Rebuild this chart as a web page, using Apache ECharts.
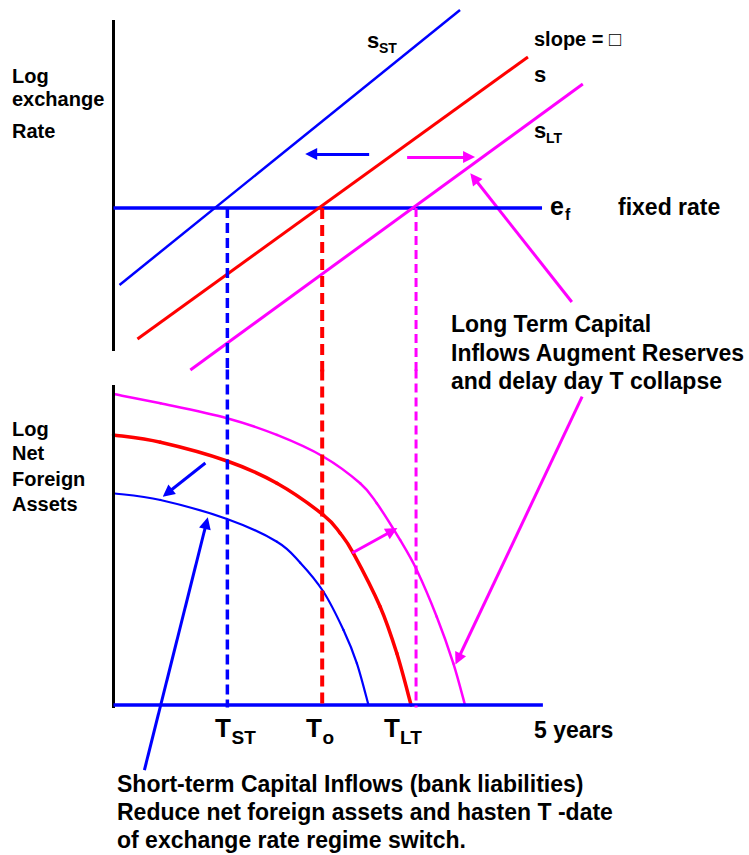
<!DOCTYPE html>
<html>
<head>
<meta charset="utf-8">
<title>Speculative attack timing</title>
<style>
  html, body { margin: 0; padding: 0; background: #fff; }
  #main { width: 749px; height: 855px; }
</style>
</head>
<body>
<div id="main"></div>
<script src="https://cdn.jsdelivr.net/npm/echarts@6/dist/echarts.min.js"></script>
<script>
// x = years from today (time axis ends at 5 years)
// top panel y = log exchange rate relative to the peg (e_f = 0)
// bottom panel y = log net foreign assets
var pegLine = [[0, 0], [4.99, 0]];
var shadowST = [[0.07, -0.895], [4.035, 2.302]];
var shadowS = [[0.279, -1.523], [4.826, 1.756]];
var shadowLT = [[0.895, -1.884], [5.465, 1.442]];

var assetsLT = [[0, 3.616], [0.547, 3.508], [1.322, 3.334], [1.903, 3.14], [2.445, 2.887],
  [2.872, 2.578], [3.066, 2.345], [3.337, 1.919], [3.531, 1.57], [3.764, 1.027],
  [3.957, 0.485], [4.093, 0]];
var assetsBase = [[0, 3.14], [0.547, 3.055], [1.322, 2.837], [1.903, 2.578], [2.445, 2.209],
  [2.64, 1.997], [2.794, 1.764], [3.105, 1.143], [3.299, 0.601], [3.465, 0]];
var assetsST = [[0, 2.462], [0.547, 2.384], [1.322, 2.163], [1.903, 1.899], [2.174, 1.655],
  [2.445, 1.317], [2.678, 0.872], [2.834, 0.485], [2.969, 0]];

var timeAxisEnd = 5;
var tDates = [1.326, 2.43, 3.523];      // T_ST, T_o, T_LT
var tSubs = ['ST', 'o', 'LT'];

// arrows: [from, to]
var topArrows = [
  [[2.977, 0.628], [2.302, 0.628]],
  [[3.419, 0.593], [4.14, 0.593]],
  [[5.337, -1.093], [4.198, 0.349]]
];
var bottomArrows = [
  [[1.07, 2.814], [0.628, 2.465]],
  [[2.779, 1.767], [3.244, 2.023]],
  [[5.457, 3.585], [4.012, 0.535]],
  [[0.36, -0.756], [1.081, 2.116]]
];
var arrowColorsTop = ['#0000ff', '#ff00ff', '#ff00ff'];
var arrowColorsBottom = ['#0000ff', '#ff00ff', '#ff00ff', '#0000ff'];

var BLUE = '#0000ff', RED = '#ff0000', MAG = '#ff00ff';
var pxPerYear = 86;
var topY = [-1.9, 2.4], botY = [-1.7, 3.9], xMax = 7.4;
var FONT = '"Liberation Sans", Arial, Helvetica, sans-serif';

var chart = echarts.init(document.getElementById('main'), null, { renderer: 'svg' });

function line(data, g, color, width, dash) {
  return {
    type: 'line', xAxisIndex: g, yAxisIndex: g, data: data,
    symbol: 'none', clip: false, silent: true,
    lineStyle: { color: color, width: width, type: dash || 'solid' }
  };
}
// smooth curve through the read points (Catmull-Rom -> bezier), placed with api.coord
function curve(data, g, color, width) {
  return {
    type: 'custom', xAxisIndex: g, yAxisIndex: g, data: [data[0]], silent: true, clip: false,
    renderItem: function (params, api) {
      var p = data.map(function (d) { return api.coord(d); });
      var segs = [];
      for (var i = 0; i < p.length - 1; i++) {
        var p0 = p[Math.max(i - 1, 0)], p1 = p[i], p2 = p[i + 1], p3 = p[Math.min(i + 2, p.length - 1)];
        segs.push({
          type: 'bezierCurve',
          shape: {
            x1: p1[0], y1: p1[1], x2: p2[0], y2: p2[1],
            cpx1: p1[0] + (p2[0] - p0[0]) / 6, cpy1: p1[1] + (p2[1] - p0[1]) / 6,
            cpx2: p2[0] - (p3[0] - p1[0]) / 6, cpy2: p2[1] - (p3[1] - p1[1]) / 6
          },
          style: { stroke: color, lineWidth: width, fill: null, lineCap: 'round' }
        });
      }
      return { type: 'group', children: segs };
    }
  };
}
function arrows(list, colors, g) {
  return list.map(function (a, i) {
    return {
      type: 'lines', coordinateSystem: 'cartesian2d', xAxisIndex: g, yAxisIndex: g,
      symbol: ['none', 'triangle'], symbolSize: 12, silent: true,
      lineStyle: { color: colors[i], width: 3, opacity: 1, curveness: 0 },
      data: [{ coords: a }]
    };
  });
}
function txt(s, x, y, fs) {
  return {
    type: 'text', x: x, y: y, silent: true,
    style: { text: s, fill: '#000', font: 'bold ' + fs + 'px ' + FONT, verticalAlign: 'middle' }
  };
}

var dashColors = [BLUE, RED, MAG], dashWidths = [3.5, 4, 3], dashPat = [[10, 5], [11, 6], [9, 5]];
var series = [
  line([[0, 2.186], [0, -1.663]], 0, '#000', 3),
  line([[0, 3.721], [0, -0.035]], 1, '#000', 3),
  line(pegLine, 0, BLUE, 3.5),
  line([[0, 0], [timeAxisEnd, 0]], 1, BLUE, 3.5),
  line(shadowST, 0, BLUE, 2.5),
  line(shadowS, 0, RED, 3),
  line(shadowLT, 0, MAG, 3),
  curve(assetsLT, 1, MAG, 2.5),
  curve(assetsBase, 1, RED, 3.5),
  curve(assetsST, 1, BLUE, 2.2)
];
tDates.forEach(function (t, i) {
  series.push(line([[t, 0], [t, topY[0]]], 0, dashColors[i], dashWidths[i], dashPat[i]));
  series.push(line([[t, botY[1]], [t, -0.03]], 1, dashColors[i], dashWidths[i], dashPat[i]));
});
series = series.concat(arrows(topArrows, arrowColorsTop, 0), arrows(bottomArrows, arrowColorsBottom, 1));

var graphics = [
  txt('Log', 12, 76, 20), txt('exchange', 12, 99, 20), txt('Rate', 12, 131, 20),
  txt('s', 367, 40, 22), txt('ST', 379, 47.5, 14),
  txt('slope = \u25A1', 534, 39, 20),
  txt('s', 534, 74, 22),
  txt('s', 534, 130, 22), txt('LT', 546, 137.5, 14),
  txt('e', 550, 206, 25), txt('f', 565, 214, 16),
  txt('fixed rate', 618, 207, 23),
  txt('Long Term Capital', 451, 324, 23),
  txt('Inflows Augment Reserves', 451, 353, 23),
  txt('and delay day T collapse', 451, 381, 23),
  txt('Log', 12, 429, 20), txt('Net', 12, 453, 20), txt('Foreign', 12, 479, 20), txt('Assets', 12, 504, 20),
  txt('5 years', 534, 730, 23),
  txt('Short-term Capital Inflows (bank liabilities)', 117, 784, 23),
  txt('Reduce net foreign assets and hasten T -date', 117, 812, 23),
  txt('of exchange rate regime switch.', 117, 840, 23)
];
var tX = [215, 306, 384], subX = [231.5, 322.5, 400];
tDates.forEach(function (t, i) {
  graphics.push(txt('T', tX[i], 728, 26));
  graphics.push(txt(tSubs[i], subX[i], 737, 19));
});

var gridLeft = 113.5;
chart.setOption({
  animation: false,
  backgroundColor: '#fff',
  grid: [
    { left: gridLeft, top: 208 - topY[1] * pxPerYear, width: xMax * pxPerYear, height: (topY[1] - topY[0]) * pxPerYear },
    { left: gridLeft, top: 705 - botY[1] * pxPerYear, width: xMax * pxPerYear, height: (botY[1] - botY[0]) * pxPerYear }
  ],
  xAxis: [
    { type: 'value', gridIndex: 0, min: 0, max: xMax, show: false },
    { type: 'value', gridIndex: 1, min: 0, max: xMax, show: false }
  ],
  yAxis: [
    { type: 'value', gridIndex: 0, min: topY[0], max: topY[1], show: false },
    { type: 'value', gridIndex: 1, min: botY[0], max: botY[1], show: false }
  ],
  series: series,
  graphic: graphics
});
</script>
</body>
</html>
